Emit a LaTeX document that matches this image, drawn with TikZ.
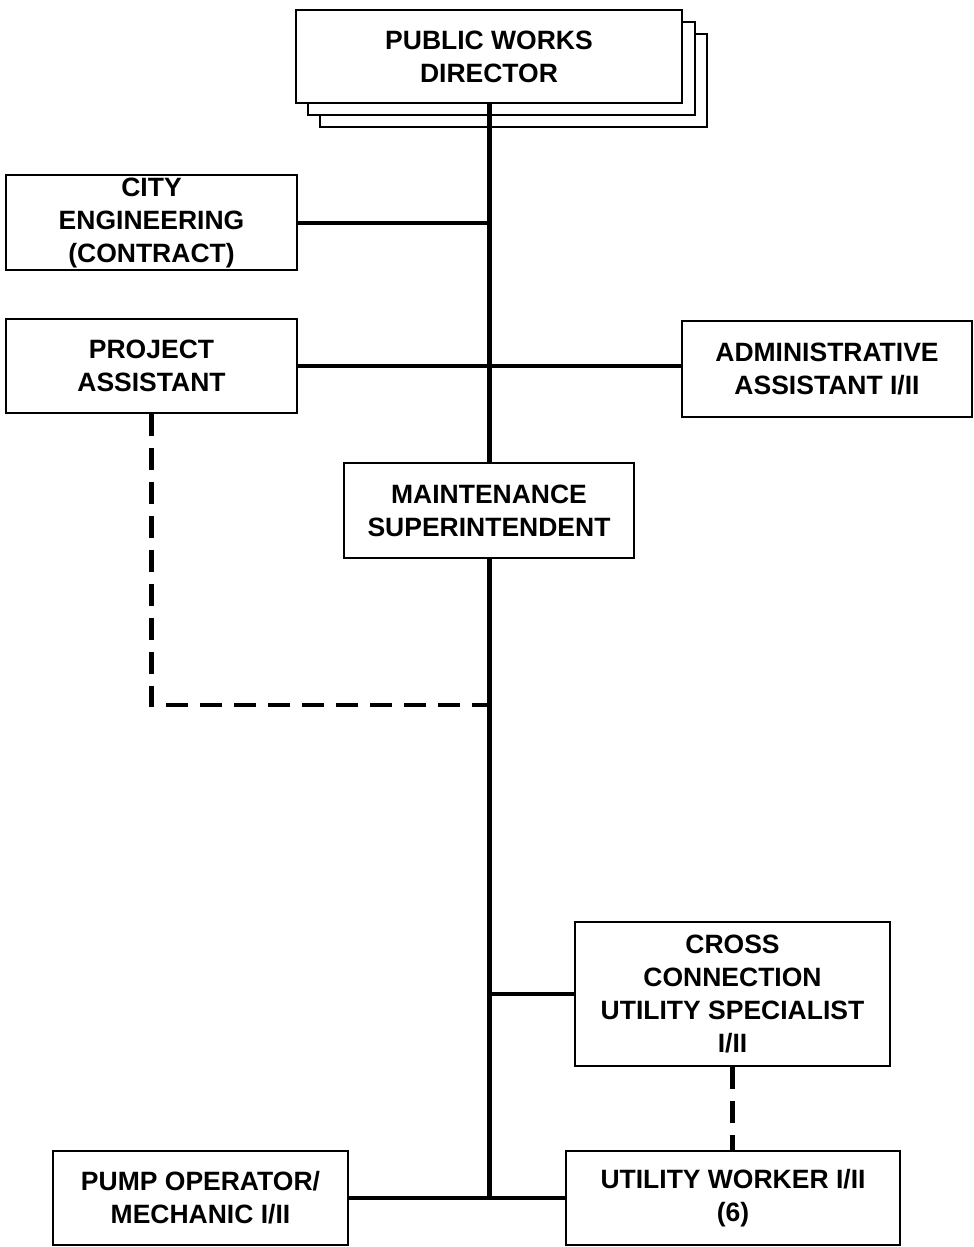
\documentclass[tikz,border=0pt]{standalone}
\usepackage{fontspec}
\setmainfont{Liberation Sans}
\begin{document}
\begin{tikzpicture}[x=1pt,y=-1pt,
  box/.style={draw=black, line width=1.8pt, fill=white, align=center, inner sep=0pt,
    font=\bfseries\fontsize{26.5}{33}\selectfont},
  solidlink/.style={line width=4pt},
  trunk/.style={line width=5pt},
  dashlink/.style={line width=4.5pt, dash pattern=on 22pt off 12pt}]
\useasboundingbox (0,0) rectangle (974,1247);

% stacked sheets behind the director box
\draw[line width=1.8pt, fill=white] (320,34) rectangle (707,127);
\draw[line width=1.8pt, fill=white] (308,22) rectangle (695,115);

\node[box, minimum width=386pt, minimum height=93pt] (dir) at (489,56.5) {PUBLIC WORKS\\DIRECTOR};
\node[box, minimum width=291pt, minimum height=95pt] (city) at (151.5,222.5) {CITY\\ENGINEERING\\(CONTRACT)};
\node[box, minimum width=291pt, minimum height=94pt] (proj) at (151.5,366) {PROJECT\\ASSISTANT};
\node[box, minimum width=290pt, minimum height=96pt] (admin) at (827,369) {ADMINISTRATIVE\\ASSISTANT I/II};
\node[box, minimum width=290pt, minimum height=95pt] (maint) at (489,510.5) {MAINTENANCE\\SUPERINTENDENT};
\node[box, minimum width=315pt, minimum height=144pt] (cross) at (732.5,994) {CROSS\\CONNECTION\\UTILITY SPECIALIST\\I/II};
\node[box, minimum width=295pt, minimum height=94pt] (pump) at (200.5,1198) {PUMP OPERATOR/\\MECHANIC I/II};
\node[box, minimum width=334pt, minimum height=94pt] (util) at (733,1198) {UTILITY WORKER I/II\\(6)};

\coordinate (bottom) at (pump.east -| maint.south);
\coordinate (dashcorner) at (proj.south |- 0,705);

% main reporting line
\draw[trunk] (dir.south) -- (maint.north);
\draw[trunk] (maint.south) -- (bottom);

% branches off the main line
\draw[solidlink] (city.east) -- (city.east -| dir.south);
\draw[solidlink] (proj.east) -- (proj.east -| admin.west);
\draw[solidlink] (cross.west) -- (cross.west -| maint.south);
\draw[solidlink] (pump.east) -- (util.west);

% dotted-line relationships
\draw[dashlink] (proj.south) -- (dashcorner) -- (dashcorner -| maint.south);
\draw[dashlink] (cross.south) -- (cross.south |- util.north);
\end{tikzpicture}
\end{document}
